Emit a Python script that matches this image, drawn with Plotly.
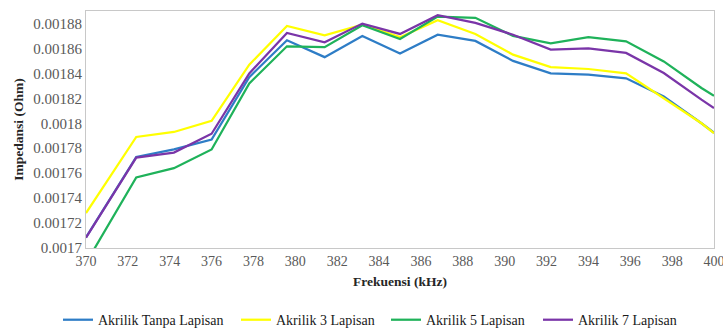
import plotly.graph_objects as go

# frekuensi (kHz) dan impedansi (Ohm)
freq = [370, 372.4, 374.2, 376.0, 377.8, 379.6, 381.4, 383.2, 385.0, 386.8,
        388.6, 390.4, 392.2, 394.0, 395.8, 397.6, 399.4, 400]

tanpa_lapisan = [0.0017085, 0.001773, 0.001779, 0.001787, 0.001837, 0.0018665,
                 0.001853, 0.00187, 0.001856, 0.001871, 0.001866, 0.00185,
                 0.00184, 0.001839, 0.001836, 0.0018215, 0.0018, 0.0017924]
lapisan_3 = [0.001728, 0.001789, 0.001793, 0.001802, 0.001847, 0.001878,
             0.0018705, 0.001879, 0.001869, 0.0018826, 0.0018716, 0.001855,
             0.001845, 0.0018435, 0.00184, 0.00182, 0.0018, 0.001792]
lapisan_5 = [0.001688, 0.0017565, 0.001764, 0.001779, 0.001832, 0.0018617,
             0.001861, 0.0018786, 0.0018676, 0.0018855, 0.0018845, 0.00187,
             0.001864, 0.001869, 0.0018657, 0.0018496, 0.0018283, 0.0018221]
lapisan_7 = [0.0017083, 0.0017725, 0.0017765, 0.0017916, 0.00184, 0.0018724,
             0.0018649, 0.0018799, 0.0018716, 0.0018866, 0.0018805, 0.001871,
             0.001859, 0.00186, 0.0018564, 0.0018403, 0.0018189, 0.0018122]

names = ["Akrilik Tanpa Lapisan", "Akrilik 3 Lapisan", "Akrilik 5 Lapisan", "Akrilik 7 Lapisan"]
colors = ["#2E7DC6", "#FFFF00", "#1FB25A", "#7A35A8"]

x_ticks = list(range(370, 401, 2))
y_tickvals = [0.0017, 0.00172, 0.00174, 0.00176, 0.00178, 0.0018,
              0.00182, 0.00184, 0.00186, 0.00188]
y_ticktext = ["0.0017", "0.00172", "0.00174", "0.00176", "0.00178", "0.0018",
              "0.00182", "0.00184", "0.00186", "0.00188"]

serif = "Liberation Serif"
W, H = 723, 329

fig = go.Figure()
legend_ids = ["legend", "legend2", "legend3", "legend4"]
for name, ys, c, lg in zip(names, [tanpa_lapisan, lapisan_3, lapisan_5, lapisan_7], colors, legend_ids):
    fig.add_trace(go.Scatter(x=freq, y=ys, mode="lines", name=name, legend=lg,
                             line=dict(color=c, width=2.25)))

# one legend per entry so each can sit where it does in the original
legend_x = [58, 236, 386, 538]
leg_common = dict(orientation="h", xref="container", yref="container",
                  y=0.027, xanchor="left", yanchor="middle",
                  font=dict(family=serif, size=14, color="#1a1a1a"),
                  bgcolor="rgba(0,0,0,0)")
legends = {lg: dict(leg_common, x=lx / W) for lg, lx in zip(legend_ids, legend_x)}

fig.update_layout(
    width=W, height=H,
    margin=dict(l=86, r=9, t=11, b=81),
    paper_bgcolor="white", plot_bgcolor="white",
    font=dict(family=serif, size=14, color="#404040"),
    showlegend=True,
    **legends,
)
fig.update_xaxes(range=[370, 400], tickvals=x_ticks, showgrid=False, zeroline=False,
                 showline=True, linecolor="#C8C8C8", linewidth=1, mirror=True,
                 ticks="", ticklabeloverflow="allow", automargin=False,
                 tickfont=dict(family=serif, color="#595959", size=14),
                 title=dict(text="<b>Frekuensi (kHz)</b>", standoff=8,
                            font=dict(family=serif, size=13.5, color="#262626")))
fig.update_yaxes(range=[0.0017, 0.00189], tickvals=y_tickvals, ticktext=y_ticktext,
                 showgrid=False, zeroline=False,
                 showline=True, linecolor="#C8C8C8", linewidth=1, mirror=True,
                 ticks="", automargin=False,
                 tickfont=dict(family=serif, color="#595959", size=15),
                 title=dict(text="<b>Impedansi (Ohm)</b>", standoff=6,
                            font=dict(family=serif, size=13.5, color="#262626")))

fig.write_html("out.html", config={"displayModeBar": False},
               post_script="document.body.style.margin='0';")
